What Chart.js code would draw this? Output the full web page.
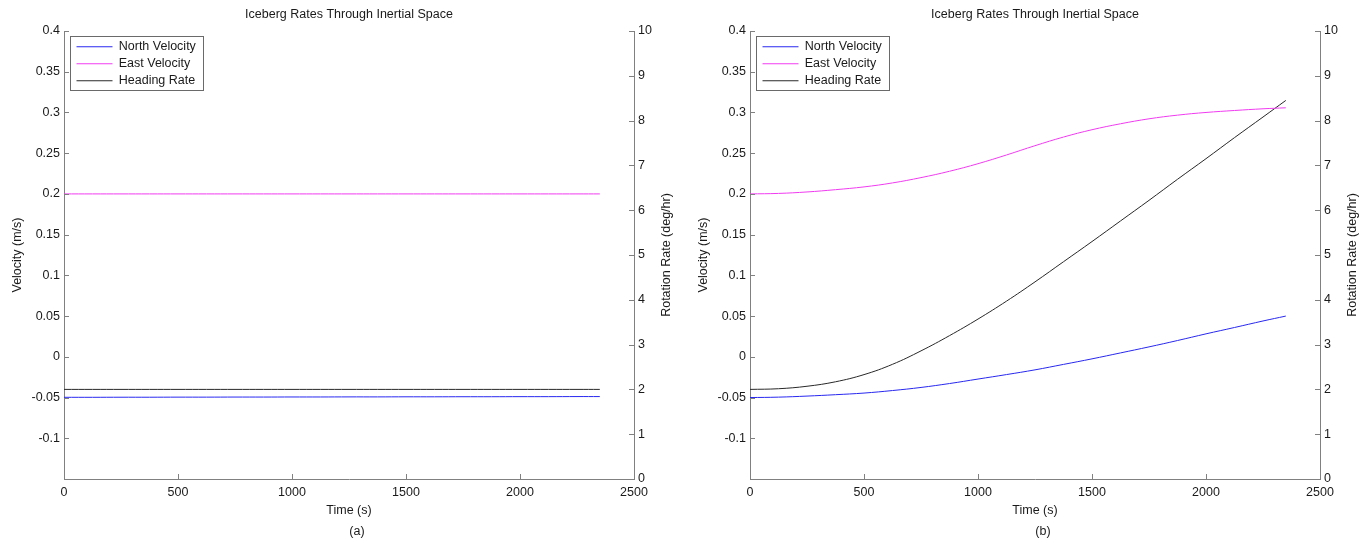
<!DOCTYPE html>
<html>
<head>
<meta charset="utf-8">
<title>Iceberg Rates Through Inertial Space</title>
<script src="https://cdn.jsdelivr.net/npm/chart.js@4.4.1/dist/chart.umd.min.js"></script>
<style>
  html, body { margin: 0; padding: 0; background: #fff; }
  body { width: 1371px; height: 548px; position: relative; overflow: hidden; }
  canvas { position: absolute; top: 0; }
  #chart-a { left: 0; }
  #chart-b { left: 686px; }
</style>
</head>
<body>
<canvas id="chart-a" width="685" height="548"></canvas>
<canvas id="chart-b" width="685" height="548"></canvas>
<script>
// sample times (s)
const time = [0, 125, 250, 375, 500, 625, 750, 875, 1000, 1125, 1250, 1375, 1500, 1625, 1750, 1875, 2000, 2125, 2250, 2350];

// panel (a): steady drift
const northA = [-0.0497, -0.0497, -0.0496, -0.0496, -0.0495, -0.0495, -0.0494, -0.0494, -0.0493, -0.0493,
  -0.0492, -0.0492, -0.0491, -0.0491, -0.049, -0.049, -0.0489, -0.0489, -0.0488, -0.0488];
const eastA = [0.2, 0.2, 0.2, 0.2, 0.2, 0.2, 0.2, 0.2, 0.2, 0.2, 0.2, 0.2, 0.2, 0.2, 0.2, 0.2, 0.2, 0.2, 0.2, 0.2];
const headingA = [2, 2, 2, 2, 2, 2, 2, 2, 2, 2, 2, 2, 2, 2, 2, 2, 2, 2, 2, 2];

// panel (b): accelerating drift
const northB = [-0.05, -0.0495, -0.0482, -0.0465, -0.0445, -0.0414, -0.0376, -0.0328, -0.0273, -0.0218,
  -0.016, -0.0093, -0.0025, 0.0048, 0.0122, 0.02, 0.0282, 0.036, 0.044, 0.05];
const eastB = [0.2, 0.2006, 0.2024, 0.2052, 0.2086, 0.2135, 0.22, 0.2278, 0.2371, 0.2478,
  0.2592, 0.2698, 0.2788, 0.2861, 0.2922, 0.2967, 0.3, 0.3024, 0.3045, 0.3057];
const headingB = [2.0, 2.015, 2.07, 2.17, 2.33, 2.56, 2.86, 3.2, 3.57, 3.97,
  4.4, 4.85, 5.3, 5.76, 6.22, 6.69, 7.15, 7.62, 8.08, 8.45];

const timeTicks = [0, 500, 1000, 1500, 2000, 2500];
const velocityTicks = [-0.1, -0.05, 0, 0.05, 0.1, 0.15, 0.2, 0.25, 0.3, 0.35, 0.4];
const rotationTicks = [0, 1, 2, 3, 4, 5, 6, 7, 8, 9, 10];

const TEXT = "#1a1a1a";
const AXIS = "#808080";
const BLUE = "rgb(40, 40, 240)";
const MAGENTA = "rgb(240, 60, 240)";
const BLACK = "rgb(40, 40, 40)";
const FS = 12.5;

Chart.defaults.font.family = "'Liberation Sans', Arial, Helvetica, sans-serif";
Chart.defaults.font.size = FS;
Chart.defaults.color = TEXT;

// MATLAB-style ticks pointing into the plot
const innerTicks = {
  id: "innerTicks",
  afterDraw(chart) {
    const { ctx, chartArea: a, scales } = chart;
    ctx.save();
    ctx.strokeStyle = AXIS;
    ctx.lineWidth = 1;
    ctx.beginPath();
    scales.x.ticks.forEach((t) => {
      const px = Math.round(scales.x.getPixelForValue(t.value)) + 0.5;
      ctx.moveTo(px, a.bottom);
      ctx.lineTo(px, a.bottom - 5);
    });
    scales.y.ticks.forEach((t) => {
      const py = Math.round(scales.y.getPixelForValue(t.value)) + 0.5;
      ctx.moveTo(a.left, py);
      ctx.lineTo(a.left + 5, py);
    });
    scales.y2.ticks.forEach((t) => {
      const py = Math.round(scales.y2.getPixelForValue(t.value)) + 0.5;
      ctx.moveTo(a.right, py);
      ctx.lineTo(a.right - 5, py);
    });
    ctx.stroke();
    ctx.restore();
  },
};

// right axis title reads bottom-to-top, plus the panel letter
const sideText = {
  id: "sideText",
  afterDraw(chart, args, opts) {
    const { ctx, chartArea: a } = chart;
    const font = FS + "px " + Chart.defaults.font.family;
    ctx.save();
    ctx.fillStyle = TEXT;
    ctx.font = font;
    ctx.textAlign = "center";
    ctx.textBaseline = "middle";
    ctx.translate(chart.width - 18, (a.top + a.bottom) / 2);
    ctx.rotate(-Math.PI / 2);
    ctx.fillText(opts.rightTitle, 0, 0);
    ctx.restore();

    ctx.save();
    ctx.fillStyle = TEXT;
    ctx.font = font;
    ctx.textAlign = "center";
    ctx.textBaseline = "middle";
    ctx.fillText(opts.panel, (a.left + a.right) / 2 + 8, 532);
    ctx.restore();
  },
};

// vertical legends get top = 0 from Chart.js, so move it under the axis top and frame it
const legendFrame = {
  id: "legendFrame",
  afterLayout(chart) {
    const lg = chart.legend;
    const dx = 8, dy = 36;
    lg.left += dx; lg.right += dx;
    lg.top += dy; lg.bottom += dy;
    lg.legendHitBoxes.forEach((h) => { h.left += dx; h.top += dy; });
  },
  afterDraw(chart) {
    const boxes = chart.legend.legendHitBoxes;
    if (!boxes || !boxes.length) return;
    const l = Math.min(...boxes.map((b) => b.left)) - 15;
    const r = Math.max(...boxes.map((b) => b.left + b.width)) - 1;
    const t = boxes[0].top - 4.5;
    const last = boxes[boxes.length - 1];
    const b = last.top + last.height + 3;
    const ctx = chart.ctx;
    ctx.save();
    ctx.strokeStyle = "#6a6a6a";
    ctx.lineWidth = 1;
    ctx.strokeRect(Math.round(l) + 0.5, Math.round(t) + 0.5, Math.round(r - l), Math.round(b - t));
    ctx.restore();
  },
};

function makeChart(canvasId, north, east, heading, panel) {
  const line = (label, data, color, axis) => ({
    label,
    data,
    yAxisID: axis,
    borderColor: color,
    backgroundColor: color,
    borderWidth: 1,
    pointRadius: 0,
    fill: false,
    tension: 0.4,
  });

  return new Chart(document.getElementById(canvasId), {
    type: "line",
    data: {
      labels: time,
      datasets: [
        line("North Velocity", north, BLUE, "y"),
        line("East Velocity", east, MAGENTA, "y"),
        line("Heading Rate", heading, BLACK, "y2"),
      ],
    },
    options: {
      responsive: false,
      animation: false,
      events: [],
      layout: { padding: 0 },
      plugins: {
        title: {
          display: true,
          text: "Iceberg Rates Through Inertial Space",
          fullSize: false,
          color: TEXT,
          font: { size: FS, weight: "normal" },
          padding: { top: 7.5, bottom: 8.5 },
        },
        legend: {
          position: "chartArea",
          align: "start",
          labels: {
            usePointStyle: true,
            pointStyle: "line",
            pointStyleWidth: 36,
            padding: 4.5,
            color: TEXT,
            font: { size: FS },
          },
        },
        tooltip: { enabled: false },
        sideText: { rightTitle: "Rotation Rate (deg/hr)", panel },
      },
      scales: {
        x: {
          type: "linear",
          min: 0,
          max: 2500,
          afterBuildTicks: (s) => { s.ticks = timeTicks.map((v) => ({ value: v })); },
          afterFit: (s) => { s.height = 69; },
          grid: { display: false, drawTicks: false },
          border: { display: true, color: AXIS, width: 1 },
          ticks: { padding: 6, maxRotation: 0, callback: (v) => String(v) },
          title: { display: true, text: "Time (s)", font: { size: FS }, padding: { top: 0, bottom: 30 } },
        },
        y: {
          position: "left",
          min: -0.15,
          max: 0.4,
          afterBuildTicks: (s) => { s.ticks = velocityTicks.map((v) => ({ value: v })); },
          afterFit: (s) => { s.width = 64; },
          grid: { display: false, drawTicks: false },
          border: { display: true, color: AXIS, width: 1 },
          ticks: { padding: 4, callback: (v) => String(v) },
          title: { display: true, text: "Velocity (m/s)", font: { size: FS }, padding: { top: 10, bottom: 0 } },
        },
        y2: {
          position: "right",
          min: 0,
          max: 10,
          afterBuildTicks: (s) => { s.ticks = rotationTicks.map((v) => ({ value: v })); },
          afterFit: (s) => { s.width = 51; },
          grid: { display: false, drawTicks: false },
          border: { display: true, color: AXIS, width: 1 },
          ticks: { padding: 4, callback: (v) => String(v) },
        },
      },
    },
    plugins: [innerTicks, sideText, legendFrame],
  });
}

makeChart("chart-a", northA, eastA, headingA, "(a)");
makeChart("chart-b", northB, eastB, headingB, "(b)");
</script>
</body>
</html>
